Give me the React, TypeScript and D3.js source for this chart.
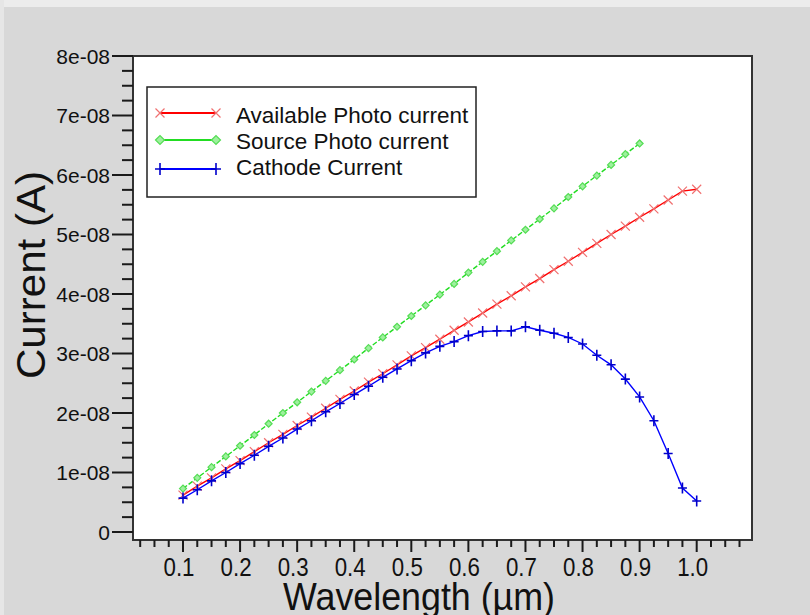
import React from "react";
import * as d3 from "d3";

const wavelengths = [0.1, 0.125, 0.15, 0.175, 0.2, 0.225, 0.25, 0.275, 0.3, 0.325, 0.35, 0.375, 0.4, 0.425, 0.45, 0.475, 0.5, 0.525, 0.55, 0.575, 0.6, 0.625, 0.65, 0.675, 0.7, 0.725, 0.75, 0.775, 0.8, 0.825, 0.85, 0.875, 0.9, 0.925, 0.95, 0.975, 1.0];

// values in units of 1e-8 A
const availablePhoto = [0.62, 0.77, 0.91, 1.06, 1.2, 1.35, 1.5, 1.64, 1.79, 1.93, 2.08, 2.23, 2.37, 2.52, 2.66, 2.81, 2.96, 3.1, 3.24, 3.39, 3.53, 3.68, 3.83, 3.97, 4.12, 4.26, 4.41, 4.55, 4.7, 4.85, 5.0, 5.14, 5.29, 5.43, 5.58, 5.73, 5.76];
const sourcePhoto = [0.73, 0.91, 1.09, 1.27, 1.45, 1.63, 1.82, 2.0, 2.18, 2.36, 2.54, 2.72, 2.9, 3.09, 3.27, 3.45, 3.63, 3.81, 3.99, 4.17, 4.36, 4.54, 4.72, 4.9, 5.08, 5.26, 5.44, 5.63, 5.81, 5.99, 6.17, 6.35, 6.53];
const cathode = [0.57, 0.71, 0.86, 1.0, 1.15, 1.29, 1.44, 1.58, 1.73, 1.87, 2.02, 2.16, 2.31, 2.45, 2.6, 2.74, 2.88, 3.01, 3.12, 3.2, 3.3, 3.37, 3.38, 3.38, 3.45, 3.39, 3.34, 3.27, 3.16, 2.97, 2.81, 2.57, 2.27, 1.87, 1.32, 0.74, 0.52];

const xTickLabels = ["0.1", "0.2", "0.3", "0.4", "0.5", "0.6", "0.7", "0.8", "0.9", "1.0"];
const yTickLabels = ["0", "1e-08", "2e-08", "3e-08", "4e-08", "5e-08", "6e-08", "7e-08", "8e-08"];
const legendLabels = ["Available Photo current", "Source Photo current", "Cathode Current"];

const W = 810, H = 615;
const frame = { left: 133, right: 752, top: 56, bottom: 540 };

export default function App() {
  const x = d3.scaleLinear().domain([0.1, 1.0]).range([183, 696.7]);
  const y = d3.scaleLinear().domain([0, 8]).range([532, 56]);

  const line = d3.line<[number, number]>().x((d) => x(d[0])).y((d) => y(d[1]));
  const redPts: [number, number][] = availablePhoto.map((v, i) => [wavelengths[i], v]);
  const greenPts: [number, number][] = sourcePhoto.map((v, i) => [wavelengths[i], v]);
  const bluePts: [number, number][] = cathode.map((v, i) => [wavelengths[i], v]);

  const xMinor = d3.range(1, 44).map((i) => i * 0.025).filter((v) => x(v) > frame.left && x(v) < frame.right);
  const yMinor = d3.range(0, 33).map((i) => i * 0.25);

  const font = "Arial, 'Liberation Sans', sans-serif";
  const ink = "#1a1a1a";

  const cross = (cx: number, cy: number, r: number, color: string, key: string) => (
    <path key={key} d={`M${cx - r},${cy - r}L${cx + r},${cy + r}M${cx - r},${cy + r}L${cx + r},${cy - r}`} stroke={color} strokeWidth={1.2} fill="none" />
  );
  const plus = (cx: number, cy: number, r: number, color: string, key: string) => (
    <path key={key} d={`M${cx - r},${cy}L${cx + r},${cy}M${cx},${cy - r - 1}L${cx},${cy + r + 1}`} stroke={color} strokeWidth={1.6} fill="none" />
  );
  const diamond = (cx: number, cy: number, r: number, color: string, key: string) => (
    <path key={key} d={`M${cx - r},${cy}L${cx},${cy - r}L${cx + r},${cy}L${cx},${cy + r}Z`} stroke={color} strokeWidth={1.2} fill="#9ef09e" />
  );

  const legendRows = [
    { y: 113, color: "#ff0000", mk: (cx: number, cy: number, k: string) => cross(cx, cy, 4.5, "#f07070", k), textY: 123 },
    { y: 140, color: "#22dd22", mk: (cx: number, cy: number, k: string) => diamond(cx, cy, 4.5, "#55dd55", k), textY: 149 },
    { y: 169, color: "#0000ff", mk: (cx: number, cy: number, k: string) => plus(cx, cy, 5, "#0000cc", k), textY: 175 },
  ];

  return (
    <div style={{ position: "fixed", left: 0, top: 0, width: W, height: H }}>
      <svg width={W} height={H} style={{ display: "block" }}>
        <rect x={0} y={0} width={W} height={H} fill="#d8d8d8" />
        <rect x={0} y={0} width={W} height={7} fill="#ececec" />
        <rect x={0} y={0} width={4} height={H} fill="#e6e6e6" />
        {/* plot area */}
        <rect x={frame.left} y={frame.top} width={frame.right - frame.left} height={frame.bottom - frame.top} fill="#ffffff" stroke="#333" strokeWidth={2} />

        {/* y axis ticks */}
        {yMinor.map((v, i) => {
          const major = i % 4 === 0;
          return <line key={"yt" + i} x1={major ? 112 : 122} x2={frame.left} y1={y(v)} y2={y(v)} stroke={ink} strokeWidth={2} />;
        })}
        {yTickLabels.map((t, i) => (
          <text key={"yl" + i} x={110} y={y(i)} dy="0.36em" textAnchor="end" fontFamily={font} fontSize={21} fill="#111">{t}</text>
        ))}

        {/* x axis ticks */}
        {xMinor.map((v, i) => {
          const major = Math.abs(v * 10 - Math.round(v * 10)) < 1e-6;
          return <line key={"xt" + i} x1={x(v)} x2={x(v)} y1={frame.bottom} y2={frame.bottom + (major ? 12 : 7)} stroke={ink} strokeWidth={2} />;
        })}
        {xTickLabels.map((t, i) => (
          <text key={"xl" + i} x={x(+t) - 4} y={576} textAnchor="middle" fontFamily={font} fontSize={25} textLength={31} lengthAdjust="spacingAndGlyphs" fill="#111">{t}</text>
        ))}

        {/* axis titles */}
        <text x={419} y={610} textAnchor="middle" fontFamily={font} fontSize={38} textLength={272} lengthAdjust="spacingAndGlyphs" fill="#111">Wavelength (µm)</text>
        <text transform="translate(45,275) rotate(-90)" textAnchor="middle" fontFamily={font} fontSize={40} textLength={208} lengthAdjust="spacingAndGlyphs" fill="#111">Current (A)</text>

        {/* series */}
        <path d={line(greenPts) || ""} fill="none" stroke="#22dd22" strokeWidth={1.4} strokeDasharray="5,2" />
        {greenPts.map((p, i) => diamond(x(p[0]), y(p[1]), 3.5, "#55dd55", "gm" + i))}
        <path d={line(redPts) || ""} fill="none" stroke="#ff0000" strokeWidth={1.4} />
        {redPts.map((p, i) => cross(x(p[0]), y(p[1]), 4.5, "#f07070", "rm" + i))}
        <path d={line(bluePts) || ""} fill="none" stroke="#0000ff" strokeWidth={1.4} />
        {bluePts.map((p, i) => plus(x(p[0]), y(p[1]), 4.5, "#0000cc", "bm" + i))}

        {/* legend */}
        <rect x={147} y={87} width={329} height={110} fill="#ffffff" stroke="#222" strokeWidth={1.5} />
        {legendRows.map((r, i) => (
          <g key={"lg" + i}>
            <line x1={160} x2={216} y1={r.y} y2={r.y} stroke={r.color} strokeWidth={2} />
            {r.mk(160, r.y, "a" + i)}
            {r.mk(216, r.y, "b" + i)}
            <text x={236} y={r.textY} fontFamily={font} fontSize={22.5} fill="#111">{legendLabels[i]}</text>
          </g>
        ))}
      </svg>
    </div>
  );
}
